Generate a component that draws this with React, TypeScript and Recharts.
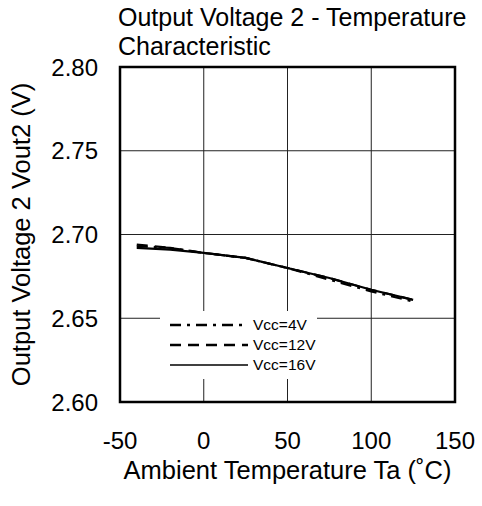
import {
  CartesianGrid,
  Line,
  LineChart,
  ReferenceArea,
  XAxis,
  YAxis,
} from "recharts";

const TEMPS = [-40, -20, 0, 25, 50, 75, 100, 125];
const VCC4 = [2.693, 2.692, 2.689, 2.686, 2.68, 2.673, 2.666, 2.66];
const VCC12 = [2.694, 2.692, 2.689, 2.686, 2.68, 2.674, 2.667, 2.661];
const VCC16 = [2.692, 2.691, 2.689, 2.686, 2.68, 2.674, 2.667, 2.661];
const X_TICKS = [-50, 0, 50, 100, 150];
const Y_TICKS = [2.6, 2.65, 2.7, 2.75, 2.8];

const SERIES = [
  { key: "v4", name: "Vcc=4V", dash: "11 6 3 6", width: 2.5 },
  { key: "v12", name: "Vcc=12V", dash: "11 7", width: 2.5 },
  { key: "v16", name: "Vcc=16V", dash: undefined, width: 1.6 },
];

const data = TEMPS.map((t, i) => ({
  t,
  v4: VCC4[i],
  v12: VCC12[i],
  v16: VCC16[i],
}));

const FONT = '"Liberation Sans", Arial, sans-serif';

// plot box: x 120..455, y 67..402
const W = 482;
const H = 506;

// legend sits inside the plot, over the grid, on a white box
function LegendBox() {
  return (
    <div
      style={{
        position: "absolute",
        left: 160,
        top: 311,
        width: 157,
        height: 68,
        background: "#fff",
        fontFamily: FONT,
        fontSize: 15.5,
        color: "#000",
        zIndex: 2,
      }}
    >
      {SERIES.map((s, i) => (
        <div
          key={s.key}
          style={{
            position: "absolute",
            left: 10,
            top: 5 + i * 20,
            height: 18,
            display: "flex",
            alignItems: "center",
          }}
        >
          <svg width={78} height={10}>
            <line
              x1={0}
              x2={78}
              y1={5}
              y2={5}
              stroke="#000"
              strokeWidth={s.width}
              strokeDasharray={s.dash}
            />
          </svg>
          <span style={{ marginLeft: 5, lineHeight: "18px" }}>{s.name}</span>
        </div>
      ))}
    </div>
  );
}

export default function App() {
  return (
    <div
      style={{
        position: "absolute",
        left: 0,
        top: 0,
        width: W,
        height: H,
        background: "#fff",
        fontFamily: FONT,
      }}
    >
      <div
        style={{
          position: "absolute",
          left: 118,
          top: 3,
          fontSize: 25,
          lineHeight: "29px",
          color: "#000",
          zIndex: 2,
        }}
      >
        Output Voltage 2 - Temperature
        <br />
        Characteristic
      </div>
      <LineChart
        width={W}
        height={H}
        data={data}
        margin={{ top: 67, right: 27, bottom: 0, left: 0 }}
      >
        <CartesianGrid stroke="#222" strokeWidth={1} />
        <XAxis
          dataKey="t"
          type="number"
          domain={[-50, 150]}
          ticks={X_TICKS}
          height={104}
          axisLine={false}
          tickLine={false}
          tickSize={0}
          tickMargin={30}
          tick={{ fill: "#000", fontSize: 24, fontFamily: FONT }}
          label={{
            value: "Ambient Temperature Ta (˚C)",
            position: "insideBottom",
            offset: 27,
            fill: "#000",
            fontSize: 25.5,
            fontFamily: FONT,
          }}
        />
        <YAxis
          type="number"
          domain={[2.6, 2.8]}
          ticks={Y_TICKS}
          width={120}
          axisLine={false}
          tickLine={false}
          tickSize={0}
          tickMargin={22}
          tickFormatter={(v: number) => v.toFixed(2)}
          tick={{ fill: "#000", fontSize: 24, fontFamily: FONT }}
          label={{
            content: ({ viewBox }: any) => (
              <text
                x={0}
                y={0}
                transform={`translate(21, ${viewBox.y + viewBox.height / 2}) rotate(-90)`}
                textAnchor="middle"
                dominantBaseline="central"
                fill="#000"
                fontSize={25.5}
                fontFamily={FONT}
              >
                Output Voltage 2 Vout2 (V)
              </text>
            ),
          }}
        />
        <ReferenceArea
          x1={-50}
          x2={150}
          y1={2.6}
          y2={2.8}
          fill="none"
          stroke="#000"
          strokeWidth={2.5}
          ifOverflow="visible"
        />
        {SERIES.map((s) => (
          <Line
            key={s.key}
            dataKey={s.key}
            name={s.name}
            stroke="#000"
            strokeWidth={2.2}
            strokeDasharray={s.dash}
            dot={false}
            isAnimationActive={false}
          />
        ))}
      </LineChart>
      <LegendBox />
    </div>
  );
}
